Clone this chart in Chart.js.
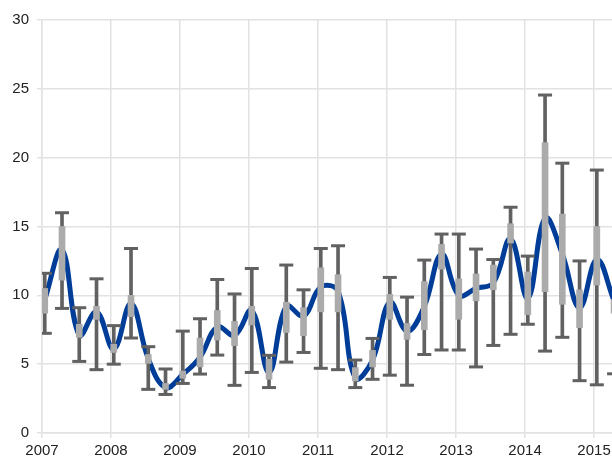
<!DOCTYPE html>
<html>
<head>
<meta charset="utf-8">
<script src="https://cdn.jsdelivr.net/npm/chart.js@4.4.1/dist/chart.umd.min.js"></script>
<style>
  body { margin: 0; background: #fff; }
  #wrap { width: 612px; height: 459px; }
</style>
</head>
<body>
<div id="wrap"><canvas id="chart" width="612" height="459"></canvas></div>
<script>
// Quarterly sample dates as decimal years
const quarters = [
  2007.04, 2007.29, 2007.54, 2007.79, 2008.04, 2008.29, 2008.54, 2008.79,
  2009.04, 2009.29, 2009.54, 2009.79, 2010.04, 2010.29, 2010.54, 2010.79,
  2011.04, 2011.29, 2011.54, 2011.79, 2012.04, 2012.29, 2012.54, 2012.79,
  2013.04, 2013.29, 2013.54, 2013.79, 2014.04, 2014.29, 2014.54, 2014.79,
  2015.04, 2015.29
];
// Mean per quarter (smoothed line)
const means = [
  9.7, 13.3, 7.1, 8.8, 6.1, 9.4, 5.4, 3.3,
  4.25, 5.5, 7.7, 7.1, 8.9, 4.4, 9.2, 8.5,
  10.6, 10.3, 4.0, 5.3, 9.5, 7.4, 9.2, 13.0,
  10.0, 10.5, 10.9, 14.1, 9.8, 15.6, 13.0, 9.1,
  12.6, 9.6
];
// Inner range (light grey boxes)
const boxLow = [
  8.7, 11.1, 6.95, 8.25, 5.85, 8.45, 5.06, 3.17,
  3.97, 4.8, 6.75, 6.35, 7.85, 3.9, 7.3, 7.07,
  8.8, 8.8, 3.78, 4.8, 8.26, 6.8, 7.5, 11.9,
  8.26, 9.6, 10.4, 13.8, 8.6, 10.26, 9.35, 7.65,
  10.75, 8.7
];
const boxHigh = [
  10.5, 15.0, 7.9, 9.2, 6.45, 10.0, 5.7, 3.6,
  4.5, 6.9, 8.9, 8.1, 9.2, 5.35, 9.5, 9.1,
  12.0, 11.5, 4.75, 6.0, 10.07, 7.96, 11.0, 13.7,
  11.2, 11.55, 12.2, 15.2, 11.7, 21.1, 15.9, 10.4,
  15.0, 9.7
];
// Outer range (whiskers with caps)
const whiskerLow = [
  7.24, 9.05, 5.2, 4.6, 5.0, 6.9, 3.17, 2.8,
  3.6, 4.28, 5.66, 3.46, 4.4, 3.3, 5.15, 5.85,
  4.7, 4.6, 3.3, 3.9, 4.2, 3.47, 5.7, 6.03,
  6.03, 4.8, 6.36, 7.17, 7.9, 5.95, 6.95, 3.8,
  3.5, 4.3
];
const whiskerHigh = [
  11.6, 16.0, 9.1, 11.2, 7.8, 13.4, 6.27, 4.65,
  7.4, 8.3, 11.15, 10.1, 11.95, 5.64, 12.2, 10.4,
  13.4, 13.6, 5.3, 6.87, 11.3, 9.87, 12.56, 14.45,
  14.45, 13.36, 12.6, 16.4, 12.85, 24.55, 19.6, 12.5,
  19.1, 12.1
];
const yearTicks = [2007, 2008, 2009, 2010, 2011, 2012, 2013, 2014, 2015];
const valueTicks = [0, 5, 10, 15, 20, 25, 30];

const BLUE = "#003d99";
const WHISKER = "#616161";
const BOX = "#ababab";
const GRID = "#e2e2e2";

const caps = [];
quarters.forEach((x, i) => {
  caps.push({ x: x, y: whiskerLow[i] });
  caps.push({ x: x, y: whiskerHigh[i] });
});

const ctx = document.getElementById("chart").getContext("2d");
new Chart(ctx, {
  type: "bar",
  data: {
    datasets: [
      {
        type: "line",
        data: quarters.map((x, i) => ({ x: x, y: means[i] })),
        borderColor: BLUE,
        borderWidth: 5,
        tension: 0.4,
        pointRadius: 0,
        fill: false,
        order: 4
      },
      {
        type: "bar",
        data: quarters.map((x, i) => ({ x: x, y: [whiskerLow[i], whiskerHigh[i]] })),
        backgroundColor: WHISKER,
        barThickness: 3,
        grouped: false,
        borderWidth: 0,
        order: 3
      },
      {
        type: "line",
        data: caps,
        showLine: false,
        pointStyle: "line",
        pointRadius: 7,
        pointBorderWidth: 3,
        pointBorderColor: WHISKER,
        order: 2
      },
      {
        type: "bar",
        data: quarters.map((x, i) => ({ x: x, y: [boxLow[i], boxHigh[i]] })),
        backgroundColor: BOX,
        barThickness: 6,
        grouped: false,
        borderWidth: 0,
        order: 1
      }
    ]
  },
  options: {
    responsive: false,
    animation: false,
    events: [],
    layout: { autoPadding: false, padding: { top: 20, right: 0, bottom: 0, left: 0 } },
    plugins: { legend: { display: false }, tooltip: { enabled: false } },
    scales: {
      x: {
        type: "linear",
        offset: false,
        min: 2007,
        max: 2015.26,
        afterBuildTicks: (scale) => { scale.ticks = yearTicks.map(v => ({ value: v })); },
        afterFit: (scale) => { scale.height = 26; scale.paddingLeft = 0; scale.paddingRight = 0; },
        grid: { offset: false, color: GRID, lineWidth: 1.5, tickLength: 5 },
        border: { color: GRID, width: 1.5 },
        ticks: {
          padding: 4,
          color: "#222",
          font: { family: "'Liberation Sans', Arial, sans-serif", size: 15 },
          callback: (v) => String(v)
        }
      },
      y: {
        min: 0,
        max: 30,
        afterBuildTicks: (scale) => { scale.ticks = valueTicks.map(v => ({ value: v })); },
        afterFit: (scale) => { scale.width = 42; },
        grid: { color: GRID, lineWidth: 1.5, tickLength: 5 },
        border: { color: GRID, width: 1.5 },
        ticks: {
          padding: 8,
          color: "#222",
          font: { family: "'Liberation Sans', Arial, sans-serif", size: 15 },
          callback: (v) => String(v)
        }
      }
    }
  }
});
</script>
</body>
</html>
